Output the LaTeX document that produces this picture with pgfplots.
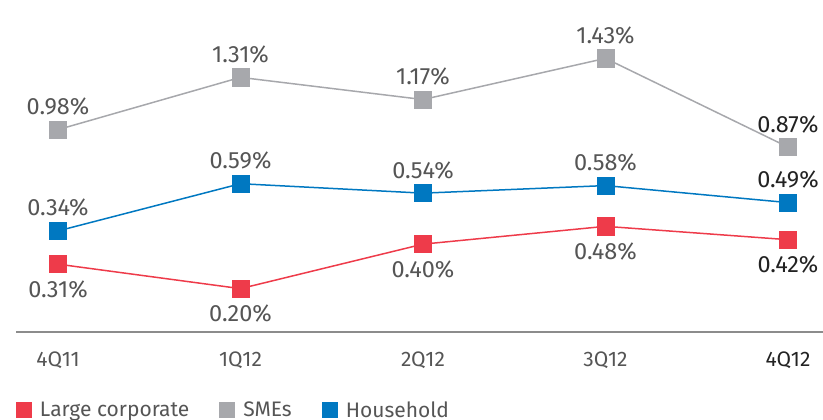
\documentclass[border=0pt]{standalone}
\usepackage{pgfplots}
\pgfplotsset{compat=1.18}
\usepackage{fontspec}
\setmainfont{Fira Sans}
\definecolor{lcred}{RGB}{238,59,74}
\definecolor{smegray}{RGB}{167,168,172}
\definecolor{hhblue}{RGB}{0,120,193}
\definecolor{labgray}{RGB}{85,85,85}
\definecolor{labdark}{RGB}{34,34,34}
\definecolor{axgray}{RGB}{140,140,140}
\pgfplotsset{
  base/.style={
    scale only axis, width=807bp, height=332bp,
    at={(16bp,88bp)}, anchor=south west,
    xmin=-0.2301, xmax=4.1918, clip=false,
  },
  hidden/.style={base, axis lines=none, xtick=\empty, ytick=\empty},
  ser/.style={line width=1.5bp, mark=square*, mark size=8.6bp,
    mark options={line width=0.6bp},
    point meta=y, visualization depends on={rawx \as \rx},
    nodes near coords={\ifdim\rx pt>3.5pt\color{labdark}\fi\pgfmathprintnumber[fixed,fixed zerofill,precision=2,assume math mode=true]{\pgfplotspointmeta}\%},
  },
  lab above/.style={every node near coord/.append style={anchor=base, inner sep=0pt, yshift=15bp, font=\fontsize{23.5bp}{26bp}\selectfont, color=labgray}},
  lab below/.style={every node near coord/.append style={anchor=base, inner sep=0pt, yshift=-33bp, font=\fontsize{23.5bp}{26bp}\selectfont, color=labgray}},
}
\begin{document}
\begin{tikzpicture}
\useasboundingbox (0,0) rectangle (823bp,420bp);
% Large corporate (own scale)
\begin{axis}[base,
  ymin=0.0051, ymax=1.4973,
  axis x line*=bottom, axis y line=none,
  x axis line style={color=axgray, line width=1.5bp, -},
  xtick={0,1,2,3,4}, major tick length=0pt,
  xticklabels={4Q11,1Q12,2Q12,3Q12,\textcolor{labdark}{4Q12}},
  xticklabel style={anchor=base, inner sep=0pt, yshift=-34bp, font=\fontsize{21bp}{23bp}\selectfont, color=labgray},
  ytick=\empty,
  legend columns=-1,
  legend style={at={(0,-0.2350)}, anchor=west, draw=none, fill=none,
    inner sep=0pt, outer sep=0pt, font=\fontsize{21bp}{23bp}\selectfont, text=labgray,
    nodes={inner sep=0pt},
    /tikz/every odd column/.append style={column sep=8bp},
    /tikz/every even column/.append style={column sep=30bp}},
  legend image code/.code={\fill[#1, draw=none] (0bp,-8bp) rectangle (16bp,8bp);},
]
\addplot[ser, lab below, color=lcred] coordinates {(0,0.31) (1,0.20) (2,0.40) (3,0.48) (4,0.42)};
\addlegendentry{Large corporate}
\addlegendimage{color=smegray}
\addlegendentry{SMEs}
\addlegendimage{color=hhblue}
\addlegendentry{Household}
\end{axis}
% SMEs
\begin{axis}[hidden, ymin=-0.2975, ymax=1.7985]
\addplot[ser, lab above, color=smegray] coordinates {(0,0.98) (1,1.31) (2,1.17) (3,1.43) (4,0.87)};
\end{axis}
% Household
\begin{axis}[hidden, ymin=-0.1950, ymax=1.5625]
\addplot[ser, lab above, color=hhblue] coordinates {(0,0.34) (1,0.59) (2,0.54) (3,0.58) (4,0.49)};
\end{axis}
\end{tikzpicture}
\end{document}
